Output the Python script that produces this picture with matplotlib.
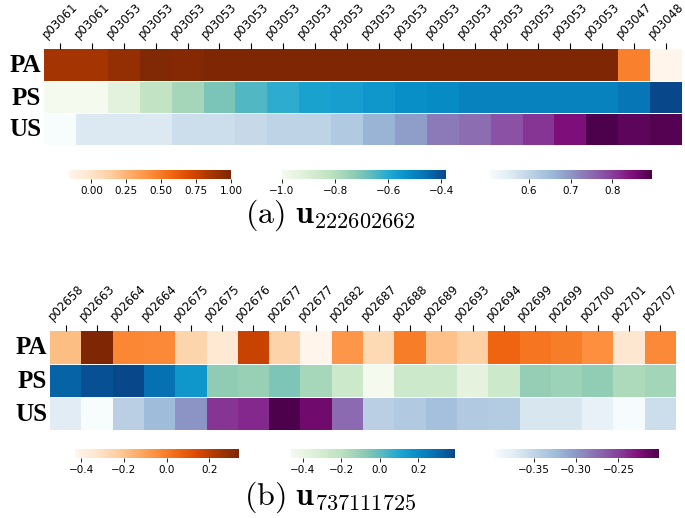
import numpy as np
import matplotlib
matplotlib.use('Agg')
import matplotlib.pyplot as plt
from matplotlib.colors import LinearSegmentedColormap

plt.rcParams['mathtext.fontset'] = 'cm'

# Data
rows = ['PA', 'PS', 'US']

labels_a = ['p03061', 'p03061'] + ['p03053'] * 16 + ['p03047', 'p03048']
pa_a = [0.86, 0.86, 0.92, 0.99, 0.98] + [1.0] * 13 + [0.47, -0.16]
ps_a = [-1.0, -1.0, -0.93, -0.83, -0.77, -0.70, -0.65, -0.61, -0.58, -0.57,
        -0.55, -0.53, -0.52, -0.50, -0.50, -0.50, -0.50, -0.50, -0.47, -0.383]
us_a = [0.505, 0.56, 0.56, 0.56, 0.583, 0.583, 0.591, 0.603, 0.603, 0.622,
        0.661, 0.692, 0.731, 0.747, 0.778, 0.809, 0.848, 0.895, 0.879, 0.887]

labels_b = ['p02658', 'p02663', 'p02664', 'p02664', 'p02675', 'p02675',
            'p02676', 'p02677', 'p02677', 'p02682', 'p02687', 'p02688',
            'p02689', 'p02693', 'p02694', 'p02699', 'p02699', 'p02700',
            'p02701', 'p02707']
pa_b = [-0.185, 0.34, -0.025, -0.035, -0.26, -0.35, 0.18, -0.255, -0.43, -0.07,
        -0.275, 0.0, -0.195, -0.24, 0.065, 0.02, 0.0, -0.05, -0.34, -0.035]
ps_b = [0.32, 0.365, 0.39, 0.285, 0.16, -0.085, -0.11, -0.05, -0.145, -0.27,
        -0.46, -0.27, -0.27, -0.375, -0.27, -0.10, -0.12, -0.09, -0.16, -0.135]
us_b = [-0.373, -0.397, -0.344, -0.324, -0.298, -0.245, -0.239, -0.202, -0.219, -0.275,
        -0.344, -0.338, -0.328, -0.338, -0.340, -0.366, -0.366, -0.381, -0.396, -0.358]

# GnBu as it appears in the reference (more vivid cyan)
gnbu = LinearSegmentedColormap.from_list('gnbu_ref', [
    (0.0, '#f5faee'), (0.15, '#dcefd6'), (0.3, '#bde2c0'), (0.45, '#8ccab3'),
    (0.55, '#5cbac0'), (0.65, '#22a9d2'), (0.76, '#0890c8'), (0.88, '#0570b2'),
    (1.0, '#08478a')])
cmaps = ['Oranges', gnbu, 'BuPu']

W, H = 685, 518
fig = plt.figure(figsize=(W / 100, H / 100), dpi=100)


def px_axes(x0, y0, x1, y1):
    # pixel box (top-left origin) -> figure axes
    return fig.add_axes([x0 / W, 1 - y1 / H, (x1 - x0) / W, (y1 - y0) / H])


def panel(data, labels, left, right, top, bottom, cbar_boxes, cbar_y, caption, cap_y):
    rh = (bottom - top) / 3.0
    meshes = []
    for i, (vals, cm, name) in enumerate(zip(data, cmaps, rows)):
        y0 = top + i * rh + (1 if i > 0 else 0)
        ax = px_axes(left, y0, right, top + (i + 1) * rh)
        vals = np.array(vals)[None, :]
        m = ax.pcolormesh(vals, cmap=cm, vmin=vals.min(), vmax=vals.max())
        ax.set_xlim(0, vals.shape[1])
        ax.set_ylim(0, 1)
        ax.set_yticks([])
        for s in ax.spines.values():
            s.set_visible(False)
        if i == 0:
            ax.xaxis.tick_top()
            ax.set_xticks(np.arange(len(labels)) + 0.5)
            ax.set_xticklabels(labels, rotation=45, ha='center', fontsize=8.5)
            ax.tick_params(axis='x', length=4, width=0.8, pad=1.5)
        else:
            ax.set_xticks([])
        fig.text((left - 3) / W, 1 - (y0 + rh / 2) / H, name, ha='right', va='center',
                 fontsize=18, fontweight='bold', family='Liberation Serif')
        meshes.append(m)
    for m, (cx0, cx1) in zip(meshes, cbar_boxes):
        cax = px_axes(cx0, cbar_y, cx1, cbar_y + 9)
        cb = fig.colorbar(m, cax=cax, orientation='horizontal')
        cb.outline.set_visible(False)
        cb.ax.tick_params(labelsize=7.5, length=3, width=0.6, pad=2)
    fig.text(330 / W, 1 - cap_y / H, caption, ha='center', va='center', fontsize=23)


panel([pa_a, ps_a, us_a], labels_a, 44, 682, 49, 145,
      [(69, 231), (282, 446), (489, 652)], 170,
      r'$\mathrm{(a)}\ \mathbf{u}_{222602662}$', 215)
panel([pa_b, ps_b, us_b], labels_b, 50, 676, 331, 430,
      [(75, 239), (291, 455), (494, 659)], 449,
      r'$\mathrm{(b)}\ \mathbf{u}_{737111725}$', 497)

fig.savefig('out.png', dpi=100)
